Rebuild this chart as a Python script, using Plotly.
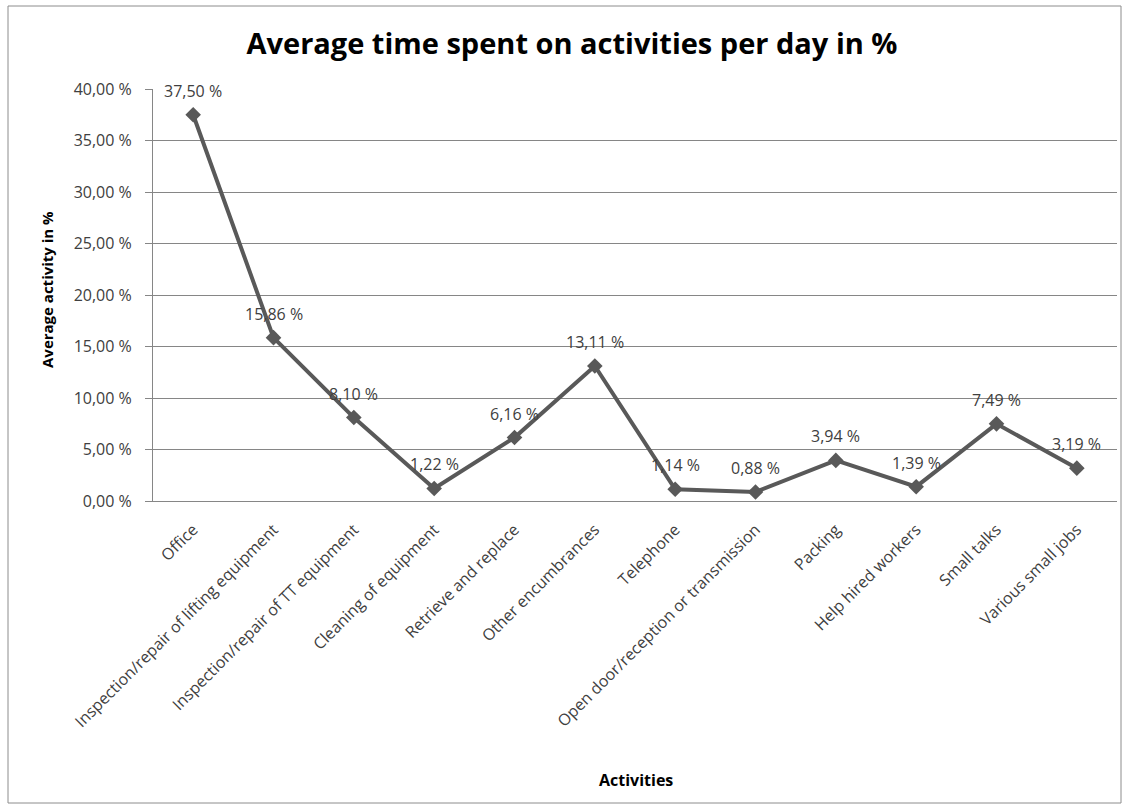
import plotly.graph_objects as go

categories = [
    "Office",
    "Inspection/repair of lifting equipment",
    "Inspection/repair of TT equipment",
    "Cleaning of equipment",
    "Retrieve and replace",
    "Other encumbrances",
    "Telephone",
    "Open door/reception or transmission",
    "Packing",
    "Help hired workers",
    "Small talks",
    "Various small jobs",
]
values = [37.50, 15.86, 8.10, 1.22, 6.16, 13.11, 1.14, 0.88, 3.94, 1.39, 7.49, 3.19]
y_ticks = [0, 5, 10, 15, 20, 25, 30, 35, 40]
y_tick_labels = [f"{v:.2f} %".replace(".", ",") for v in y_ticks]
value_labels = [f"{v:.2f} %".replace(".", ",") for v in values]

W, H = 1129, 810
L, R, T, B = 153, 1117, 89, 501  # plot area in pixels


def px_x(px):
    return (px - L) / (R - L)


def px_y(py):
    return (B - py) / (B - T)


FONT = "Open Sans"
TXT = "#404040"
LINE = "#595959"
GRID = "#868686"

fig = go.Figure()
fig.add_trace(go.Scatter(
    x=categories, y=values, mode="lines+markers",
    line=dict(color=LINE, width=4),
    marker=dict(symbol="diamond", size=12, color=LINE),
    showlegend=False, cliponaxis=False,
))

for c, v, t in zip(categories, values, value_labels):
    fig.add_annotation(x=c, y=v, text=t, showarrow=False, yshift=24,
                       font=dict(family=FONT, size=16, color=TXT))

fig.add_annotation(xref="paper", yref="paper", x=px_x(47), y=px_y(290),
                   xanchor="center", yanchor="middle",
                   text="<b>Average activity in %</b>", textangle=-90,
                   showarrow=False, font=dict(family=FONT, size=15, color="#000000"))
fig.add_annotation(xref="paper", yref="paper", x=px_x(636), y=px_y(780),
                   xanchor="center", yanchor="middle",
                   text="<b>Activities</b>", showarrow=False,
                   font=dict(family=FONT, size=16, color="#000000"))

# outer chart border
fig.add_shape(type="rect", xref="paper", yref="paper",
              x0=px_x(8), x1=px_x(1121), y0=px_y(6), y1=px_y(803),
              line=dict(color="#8c8c8c", width=1), layer="below")

fig.update_layout(
    width=W, height=H,
    margin=dict(l=L, r=W - R, t=T, b=H - B),
    paper_bgcolor="white", plot_bgcolor="white",
    title=dict(text="<b>Average time spent on activities per day in %</b>",
               x=572 / W, xanchor="center", y=1 - 44 / H, yanchor="middle",
               yref="container",
               font=dict(family=FONT, size=29, color="#000000")),
    xaxis=dict(
        type="category", range=[-0.5, len(categories) - 0.5],
        tickangle=-45, tickfont=dict(family=FONT, size=16, color=TXT),
        ticklabelstandoff=12,
        showgrid=False, showline=True, linecolor=GRID, linewidth=1,
        ticks="", zeroline=False,
    ),
    yaxis=dict(
        range=[0, 40], tickvals=y_ticks, ticktext=y_tick_labels,
        tickfont=dict(family=FONT, size=16, color=TXT),
        ticklabelstandoff=10,
        showgrid=True, gridcolor=GRID, gridwidth=1,
        showline=True, linecolor=GRID, linewidth=1,
        ticks="outside", ticklen=7, tickcolor=GRID,
        zeroline=False,
    ),
)

fig.write_html("out.html")
